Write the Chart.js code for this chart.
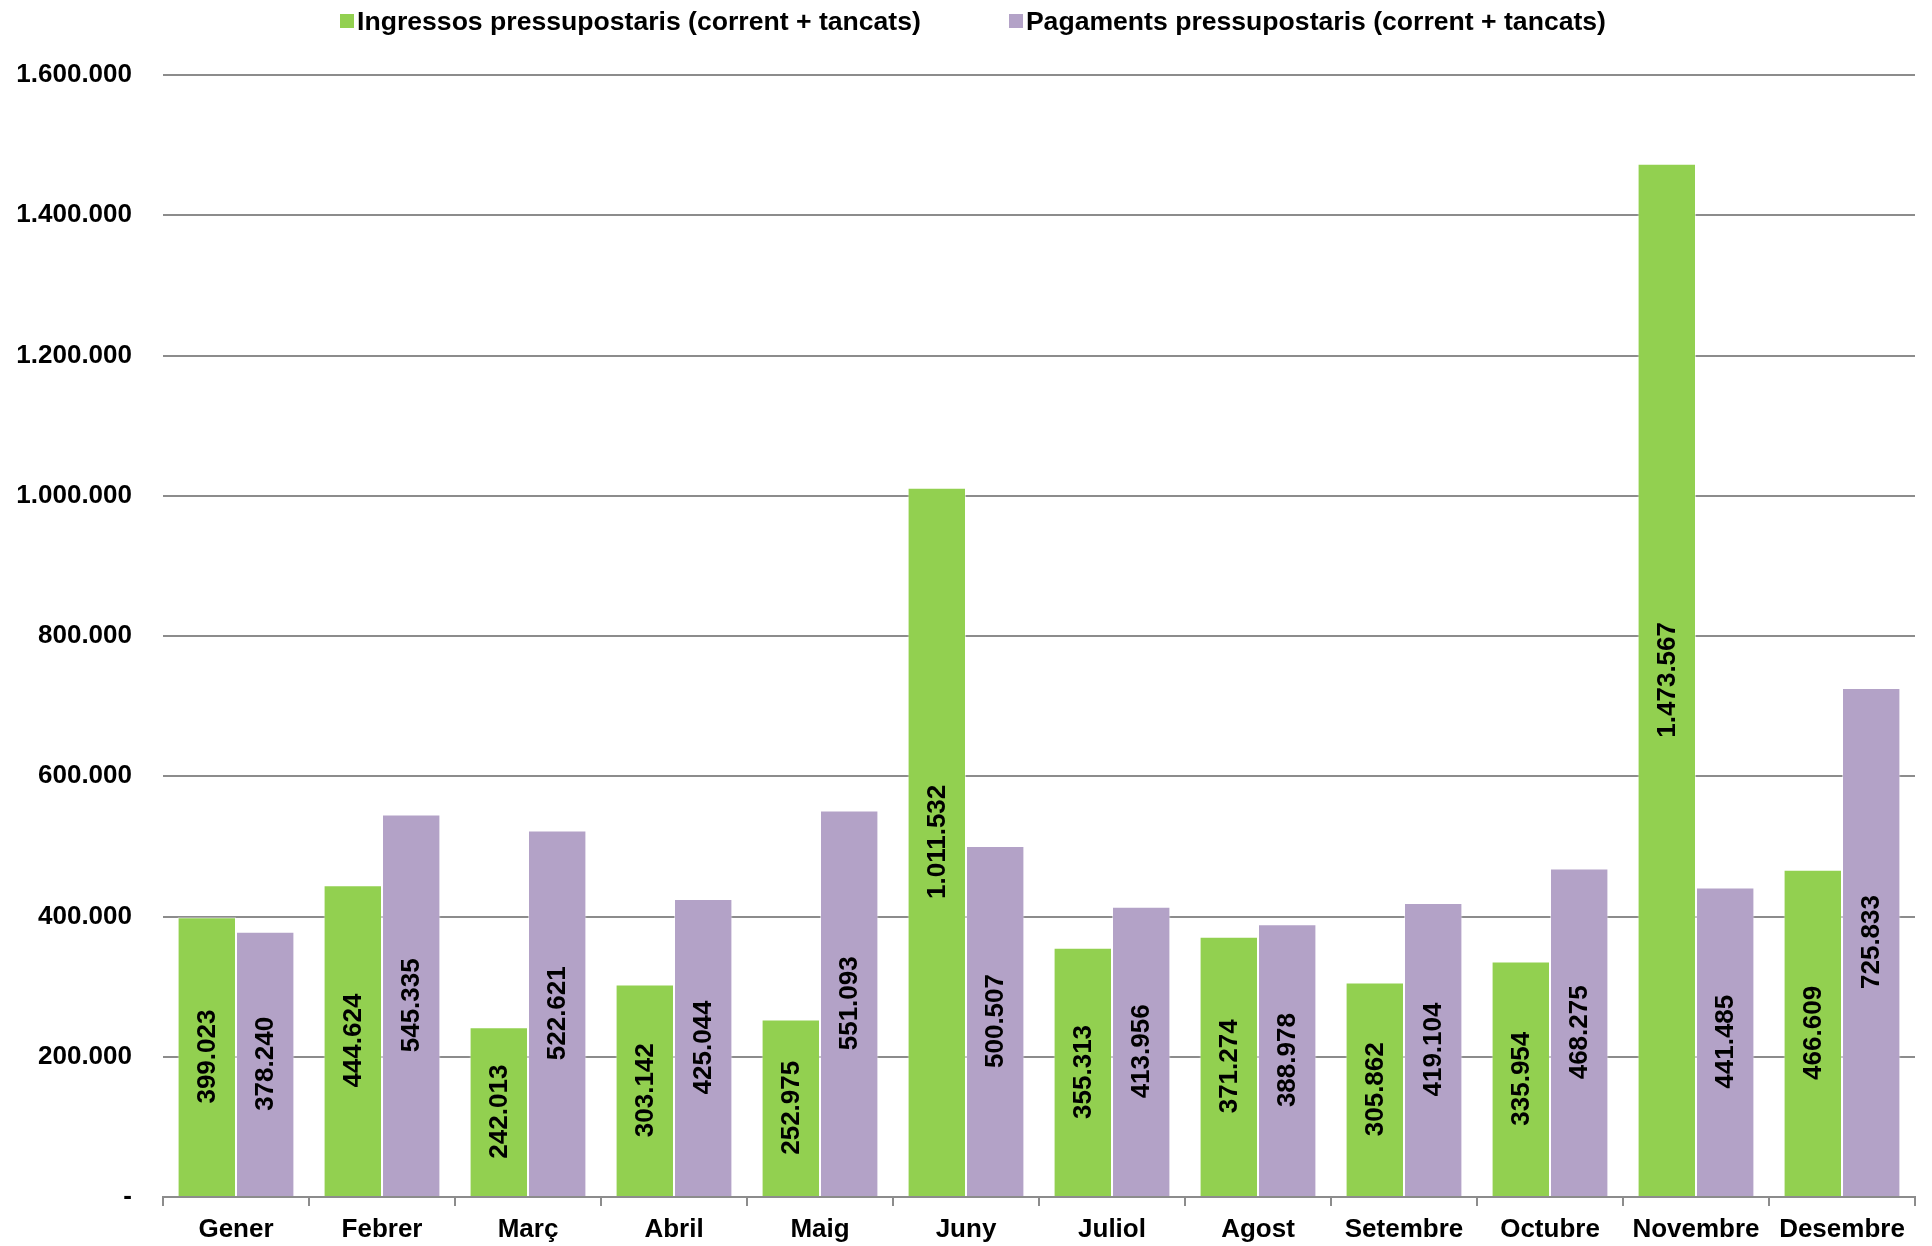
<!DOCTYPE html>
<html>
<head>
<meta charset="UTF-8">
<title>Ingressos i pagaments pressupostaris</title>
<style type="text/css">
  html, body { margin: 0; padding: 0; background: #ffffff; }
  #chart-container { position: relative; width: 1932px; height: 1246px; }
  #legend {
    position: absolute; top: 6px; left: 0; width: 1932px;
    display: flex; justify-content: center; padding-left: 14px; box-sizing: border-box;
    font: bold 26.6px 'Liberation Sans', Arial, sans-serif; color: #000;
    line-height: 30px;
  }
  #legend .item { display: flex; align-items: center; margin: 0 44px; }
  #legend .box { width: 14px; height: 14px; margin-right: 3px; }
</style>
<script type="text/javascript" src="https://cdn.jsdelivr.net/npm/chart.js@4.4.0/dist/chart.umd.min.js"></script>
</head>
<body>
<div id="chart-container">
  <div id="legend"></div>
  <canvas id="mycanvas"></canvas>
</div>
<script>
var months = ['Gener', 'Febrer', 'Març', 'Abril', 'Maig', 'Juny', 'Juliol', 'Agost', 'Setembre', 'Octubre', 'Novembre', 'Desembre'];
var ingressos = [399023, 444624, 242013, 303142, 252975, 1011532, 355313, 371274, 305862, 335954, 1473567, 466609];
var pagaments = [378240, 545335, 522621, 425044, 551093, 500507, 413956, 388978, 419104, 468275, 441485, 725833];
var yTicks = [0, 200000, 400000, 600000, 800000, 1000000, 1200000, 1400000, 1600000];

var FONT = "'Liberation Sans', Arial, sans-serif";

function fmt(v) {
  if (v === 0) return '-';
  return String(v).replace(/\B(?=(\d{3})+(?!\d))/g, '.');
}

// rotated value labels in the middle of each bar
var barLabels = {
  id: 'barLabels',
  afterDatasetsDraw: function(chart) {
    var ctx = chart.ctx;
    ctx.save();
    ctx.font = 'bold 26px ' + FONT;
    ctx.fillStyle = '#000000';
    ctx.textAlign = 'center';
    ctx.textBaseline = 'middle';
    chart.data.datasets.forEach(function(ds, i) {
      chart.getDatasetMeta(i).data.forEach(function(bar, j) {
        var y = (bar.y + bar.base) / 2;
        ctx.save();
        ctx.translate(bar.x, y);
        ctx.rotate(-Math.PI / 2);
        ctx.fillText(fmt(ds.data[j]), 0, 1);
        ctx.restore();
      });
    });
    ctx.restore();
  }
};

var ctx = document.getElementById('mycanvas');
var chart = new Chart(ctx, {
  type: 'bar',
  data: {
    labels: months,
    datasets: [
      {
        label: 'Ingressos pressupostaris (corrent + tancats)',
        backgroundColor: '#92D050',
        borderColor: 'rgba(255,255,255,0.5)',
        borderWidth: 1,
        data: ingressos
      },
      {
        label: 'Pagaments pressupostaris (corrent + tancats)',
        backgroundColor: '#B3A2C7',
        borderColor: 'rgba(255,255,255,0.5)',
        borderWidth: 1,
        data: pagaments
      }
    ]
  },
  options: {
    responsive: true,
    maintainAspectRatio: false,
    animation: false,
    layout: { padding: { left: 0, right: 17, top: 75, bottom: 0 } },
    datasets: { bar: { categoryPercentage: 0.8, barPercentage: 1.0 } },
    plugins: {
      tooltip: { enabled: false },
      legend: { display: false }
    },
    scales: {
      x: {
        grid: {
          display: true,
          drawOnChartArea: false,
          offset: true,
          color: '#8c8c8c',
          lineWidth: 2,
          tickLength: 9
        },
        border: { display: true, color: '#8c8c8c', width: 2 },
        ticks: {
          color: '#000000',
          font: { family: FONT, size: 26, weight: 'bold' },
          padding: 8,
          maxRotation: 0,
          autoSkip: false
        },
        afterFit: function(scale) { scale.height = 49; }
      },
      y: {
        min: 0,
        max: 1600000,
        afterBuildTicks: function(scale) {
          scale.ticks = yTicks.map(function(v) { return { value: v }; });
        },
        grid: {
          color: '#8c8c8c',
          lineWidth: 2,
          drawTicks: false
        },
        border: { display: false },
        ticks: {
          color: '#000000',
          font: { family: FONT, size: 26, weight: 'bold' },
          padding: 31,
          callback: function(v) { return fmt(v); }
        },
        afterFit: function(scale) { scale.width = 163; }
      }
    }
  },
  plugins: [barLabels]
});

// html legend built from the datasets
var legend = document.getElementById('legend');
chart.data.datasets.forEach(function(ds) {
  var item = document.createElement('div');
  item.className = 'item';
  var box = document.createElement('span');
  box.className = 'box';
  box.style.background = ds.backgroundColor;
  var txt = document.createElement('span');
  txt.textContent = ds.label;
  item.appendChild(box);
  item.appendChild(txt);
  legend.appendChild(item);
});
</script>
</body>
</html>
